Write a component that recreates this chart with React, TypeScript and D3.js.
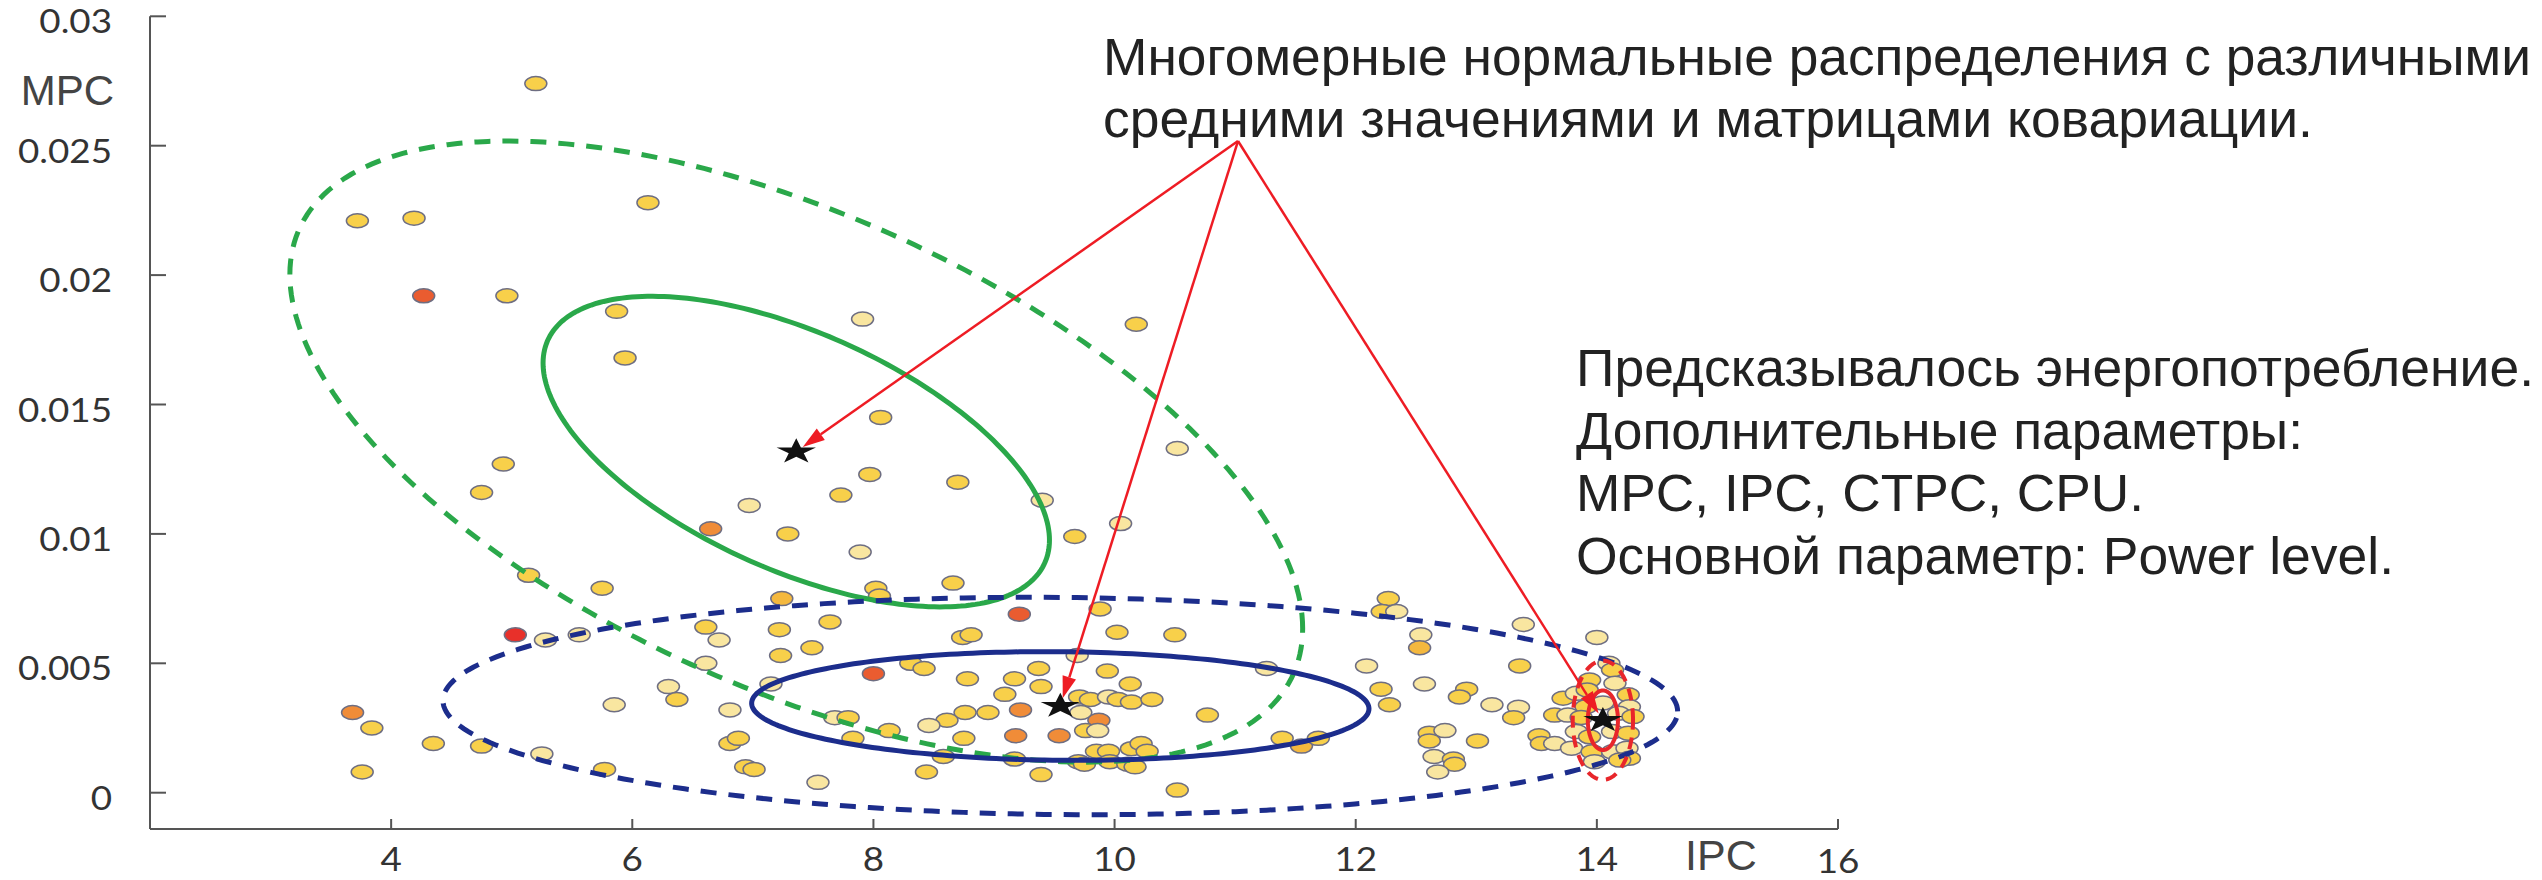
import React from 'react';
import * as d3 from 'd3';

const W = 2542;
const H = 880;

// Axis ticks
const xTicks = [4, 6, 8, 10, 12, 14, 16];
const yTicks = [0, 0.005, 0.01, 0.015, 0.02, 0.025, 0.03];
const yTickLabels = ['0', '0.005', '0.01', '0.015', '0.02', '0.025', '0.03'];

// Observations: IPC, MPC and power level (0 = lowest … 5 = highest)
const ipc = [
  5.20, 3.72, 4.19, 6.13, 4.27, 4.96, 5.87, 5.94, 7.91, 10.18,
  8.06, 10.52, 4.93, 4.75, 5.14, 5.75, 5.03, 5.28, 5.56, 6.61,
  6.61, 6.30, 6.37, 5.85, 3.68, 3.84, 4.35, 4.75, 5.25, 5.77,
  3.76, 7.97, 8.70, 7.73, 6.97, 9.40, 10.05, 6.65, 7.29, 9.67,
  7.89, 8.02, 8.05, 8.66, 7.24, 9.21, 9.88, 6.72, 7.22, 7.64,
  7.49, 7.23, 8.74, 8.81, 10.02, 10.50, 8.31, 8.42, 8.00, 8.78,
  9.17, 9.37, 9.69, 9.94, 10.13, 9.39, 9.09, 7.15, 6.81, 7.68,
  7.79, 8.76, 8.95, 9.22, 8.61, 8.46, 9.72, 9.71, 9.80, 9.95,
  10.03, 10.14, 10.31, 9.87, 9.76, 9.86, 10.77, 8.13, 7.83, 8.75,
  9.18, 9.54, 6.81, 6.88, 6.94, 7.01, 7.54, 8.44, 8.58, 9.17,
  9.39, 9.70, 9.75, 9.85, 9.95, 9.96, 10.14, 10.22, 10.27, 10.11,
  10.17, 10.52, 11.26, 11.39, 11.55, 11.69, 12.27, 12.22, 12.34, 12.54,
  12.53, 13.39, 14.00, 12.09, 13.36, 12.57, 12.21, 12.92, 12.86, 12.28,
  13.13, 13.35, 13.31, 12.61, 12.74, 12.61, 13.01, 12.65, 12.81, 12.82,
  12.68, 13.52, 13.54, 13.65, 14.10, 14.13, 13.94, 14.15, 13.72, 13.83,
  13.91, 14.26, 14.27, 13.65, 13.76, 13.87, 14.18, 14.30, 13.83, 13.94,
  14.13, 14.26, 13.79, 13.96, 14.13, 14.25, 14.27, 13.98, 14.19, 14.05,
  13.92,
];
const mpc = [
  0.0274, 0.0221, 0.0222, 0.0228, 0.0192, 0.0192, 0.0186, 0.0168, 0.0183, 0.0181,
  0.0145, 0.0133, 0.0127, 0.0116, 0.0084, 0.0079, 0.0061, 0.0059, 0.0061, 0.0064,
  0.0050, 0.0041, 0.0036, 0.0034, 0.0031, 0.0025, 0.0019, 0.0018, 0.0015, 0.0009,
  0.0008, 0.0123, 0.0120, 0.0115, 0.0111, 0.0113, 0.0104, 0.0102, 0.0100, 0.0099,
  0.0093, 0.0079, 0.0076, 0.0081, 0.0075, 0.0069, 0.0071, 0.0059, 0.0063, 0.0066,
  0.0056, 0.0053, 0.0060, 0.0061, 0.0062, 0.0061, 0.0050, 0.0048, 0.0046, 0.0044,
  0.0044, 0.0048, 0.0053, 0.0047, 0.0042, 0.0041, 0.0038, 0.0042, 0.0032, 0.0029,
  0.0029, 0.0031, 0.0031, 0.0032, 0.0028, 0.0026, 0.0031, 0.0037, 0.0036, 0.0037,
  0.0036, 0.0035, 0.0036, 0.0028, 0.0024, 0.0024, 0.0030, 0.0024, 0.0021, 0.0021,
  0.0022, 0.0022, 0.0019, 0.0021, 0.0010, 0.0009, 0.0004, 0.0008, 0.0014, 0.0013,
  0.0007, 0.0012, 0.0011, 0.0016, 0.0016, 0.0012, 0.0017, 0.0019, 0.0016, 0.0011,
  0.0010, 0.0001, 0.0048, 0.0021, 0.0018, 0.0021, 0.0075, 0.0070, 0.0070, 0.0061,
  0.0056, 0.0065, 0.0060, 0.0049, 0.0049, 0.0042, 0.0040, 0.0040, 0.0037, 0.0034,
  0.0034, 0.0033, 0.0029, 0.0023, 0.0024, 0.0020, 0.0020, 0.0014, 0.0013, 0.0011,
  0.0008, 0.0022, 0.0019, 0.0019, 0.0050, 0.00474, 0.00435, 0.00423, 0.00365, 0.00384,
  0.00332, 0.00378, 0.00332, 0.0030, 0.0030, 0.00291, 0.00307, 0.00294, 0.00236, 0.00216,
  0.00236, 0.0023, 0.00172, 0.00158, 0.00158, 0.00172, 0.00133, 0.0012, 0.00126, 0.00347,
  0.00397,
];
const level = [
  1, 1, 1, 1, 4, 1, 1, 1, 0, 1,
  1, 0, 1, 1, 1, 1, 5, 0, 0, 1,
  0, 0, 1, 0, 3, 1, 1, 1, 0, 1,
  1, 1, 1, 1, 0, 0, 0, 3, 1, 1,
  0, 1, 1, 1, 2, 4, 1, 0, 1, 1,
  1, 1, 1, 1, 1, 1, 1, 1, 4, 1,
  1, 1, 0, 1, 1, 1, 1, 0, 0, 0,
  1, 1, 1, 3, 1, 0, 0, 1, 1, 0,
  1, 1, 1, 3, 1, 0, 1, 1, 1, 1,
  3, 3, 1, 1, 1, 1, 0, 1, 1, 1,
  1, 1, 1, 1, 1, 1, 1, 1, 1, 1,
  1, 1, 0, 1, 2, 1, 1, 1, 0, 0,
  2, 0, 0, 0, 1, 0, 1, 1, 1, 1,
  0, 0, 1, 1, 0, 1, 1, 0, 1, 1,
  0, 1, 1, 0, 0, 1, 1, 0, 1, 0,
  1, 1, 0, 1, 0, 1, 0, 1, 0, 1,
  0, 1, 0, 1, 0, 0, 1, 0, 1, 0,
  1,
];
const levelColors = ['#f9e6a0', '#f8d04a', '#f4b83e', '#f08c38', '#ea5c30', '#e8302a'];

// Fitted bivariate normal components
const meanIPC = [7.36, 9.55, 14.05];
const meanMPC = [0.01318, 0.00335, 0.0028];
const sdIPC = [2.1, 2.56, 0.125];
const sdMPC = [0.006, 0.0021, 0.00115];
const corr = [-0.57, -0.05, 0];
const componentColors = ['#2aa84a', '#1c2d8c', '#e8262b'];

// Annotation texts
const headingLines = [
  'Многомерные нормальные распределения с различными',
  'средними значениями и матрицами ковариации.',
];
const headingWidths = [1428, 1210];
const noteLines = [
  'Предсказывалось энергопотребление.',
  'Дополнительные параметры:',
  'MPC, IPC, CTPC, CPU.',
  'Основной параметр: Power level.',
];
const noteWidths = [958, 727, 568, 818];

const x = d3.scaleLinear().domain([2, 16]).range([150, 1838]);
const y = d3.scaleLinear().domain([0, 0.03]).range([792.7, 16.3]);
const color = d3.scaleOrdinal<number, string>().domain(d3.range(levelColors.length)).range(levelColors);

const axisY = 829; // baseline of the IPC axis
const axisX = x(2);

function ellipsePath(i: number, k: number): string {
  const ts = d3.range(0, 2 * Math.PI, Math.PI / 120);
  const r = corr[i];
  const pts: [number, number][] = ts.map((t) => {
    const u = Math.cos(t);
    const v = Math.sin(t);
    const dx = k * sdIPC[i] * u;
    const dy = k * sdMPC[i] * (r * u + Math.sqrt(1 - r * r) * v);
    return [x(meanIPC[i] + dx), y(meanMPC[i] + dy)];
  });
  return d3.line().curve(d3.curveLinearClosed)(pts) || '';
}

const starPath = d3.symbol().type(d3.symbolStar).size(200)() || '';

const apex: [number, number] = [1238, 141];

function Arrow({ i }: { i: number }) {
  const tx = x(meanIPC[i]);
  const ty = y(meanMPC[i]);
  const dx = tx - apex[0];
  const dy = ty - apex[1];
  const len = Math.hypot(dx, dy);
  const ux = dx / len;
  const uy = dy / len;
  const tipX = tx - ux * 8;
  const tipY = ty - uy * 8;
  const headLen = 22;
  const headW = 7;
  const bx = tipX - ux * headLen;
  const by = tipY - uy * headLen;
  const head = `M${tipX},${tipY}L${bx - uy * headW},${by + ux * headW}L${bx + uy * headW},${by - ux * headW}Z`;
  return (
    <g>
      <line x1={apex[0]} y1={apex[1]} x2={bx} y2={by} stroke="#ee1c24" strokeWidth={2.5} />
      <path d={head} fill="#ee1c24" />
    </g>
  );
}

export default function App() {
  const tickFont = "Lato, 'Open Sans', sans-serif";
  const textFont = "'Liberation Sans', Arial, sans-serif";
  return (
    <svg
      width={W}
      height={H}
      viewBox={`0 0 ${W} ${H}`}
      style={{ position: 'absolute', left: 0, top: 0, display: 'block', background: '#fff' }}
    >
      <rect width={W} height={H} fill="#fff" />

      {/* axes */}
      <g stroke="#555" strokeWidth={2} fill="none">
        <line x1={axisX} y1={y(0.03)} x2={axisX} y2={axisY} />
        <line x1={axisX} y1={axisY} x2={x(16)} y2={axisY} />
        {yTicks.map((t) => (
          <line key={`yt${t}`} x1={axisX} y1={y(t)} x2={axisX + 16} y2={y(t)} />
        ))}
        {xTicks.map((t) => (
          <line key={`xt${t}`} x1={x(t)} y1={axisY} x2={x(t)} y2={axisY - 10} />
        ))}
      </g>
      <g fontFamily={tickFont} fontSize={32} fill="#333">
        {yTicks.map((t, i) => (
          <text key={`yl${t}`} transform={`translate(112,${y(t) + 17}) scale(1.15,1)`} textAnchor="end">
            {yTickLabels[i]}
          </text>
        ))}
        {xTicks.map((t) => (
          <text
            key={`xl${t}`}
            transform={`translate(${x(t)},${t === 16 ? 873 : 871}) scale(1.15,1)`}
            textAnchor="middle"
          >
            {t}
          </text>
        ))}
      </g>
      <text x={114} y={105} textAnchor="end" fontFamily={textFont} fontSize={42} fill="#444">
        MPC
      </text>
      <text x={1685} y={870} fontFamily={textFont} fontSize={43} fill="#444">
        IPC
      </text>

      {/* observations */}
      <g stroke="#6e6e82" strokeWidth={1.5}>
        {ipc.map((v, i) => (
          <ellipse key={`p${i}`} cx={x(v)} cy={y(mpc[i])} rx={11} ry={7} fill={color(level[i])} />
        ))}
      </g>

      {/* component ellipses: 1 and 2 standard deviations */}
      <g fill="none">
        {meanIPC.map((_, i) => (
          <g key={`e${i}`} stroke={componentColors[i]}>
            <path d={ellipsePath(i, 1)} strokeWidth={i === 2 ? 4 : 5} />
            <path
              d={ellipsePath(i, 2)}
              strokeWidth={i === 2 ? 4 : 5}
              strokeDasharray={i === 2 ? '12 8' : '16 12'}
            />
          </g>
        ))}
      </g>

      {/* component means */}
      {meanIPC.map((v, i) => (
        <path
          key={`s${i}`}
          d={starPath}
          transform={`translate(${x(v)},${y(meanMPC[i])}) scale(1.55,1)`}
          fill="#111"
        />
      ))}

      {meanIPC.map((_, i) => (
        <Arrow key={`a${i}`} i={i} />
      ))}

      {/* annotations */}
      <g fontFamily={textFont} fontSize={51} fill="#222">
        {headingLines.map((s, i) => (
          <text key={`h${i}`} x={1103} y={75 + i * 62} textLength={headingWidths[i]} lengthAdjust="spacingAndGlyphs">
            {s}
          </text>
        ))}
        {noteLines.map((s, i) => (
          <text key={`n${i}`} x={1576} y={386 + i * 62.5} textLength={noteWidths[i]} lengthAdjust="spacingAndGlyphs">
            {s}
          </text>
        ))}
      </g>
    </svg>
  );
}
